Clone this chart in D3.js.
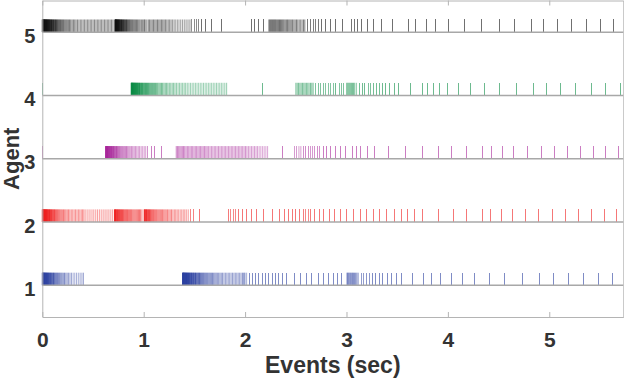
<!DOCTYPE html>
<html>
<head>
<meta charset="utf-8">
<script src="https://cdn.jsdelivr.net/npm/d3@7/dist/d3.min.js"></script>
<style>
body { margin: 0; background: #fff; }
svg text { font-family: "Liberation Sans", Arial, sans-serif; font-weight: bold; fill: #333; }
</style>
</head>
<body>
<svg id="chart" width="624" height="382"></svg>
<script>
// event times (sec) per agent
const agents = [1, 2, 3, 4, 5];
const xTicks = [0, 1, 2, 3, 4, 5];

const events1 = [
    0.000, 0.003, 0.006, 0.009, 0.013, 0.016, 0.020, 0.024, 0.028, 0.033, 0.037, 0.042, 0.047, 0.052, 0.058,
    0.063, 0.069, 0.075, 0.082, 0.088, 0.095, 0.103, 0.110, 0.118, 0.126, 0.135, 0.144, 0.153, 0.163, 0.173,
    0.184, 0.195, 0.207, 0.219, 0.232, 0.245, 0.259, 0.273, 0.288, 0.304, 0.320, 0.337, 0.355, 0.373, 0.391, 0.406,
    1.384, 1.387, 1.390, 1.394, 1.397, 1.401, 1.405, 1.409, 1.413, 1.418, 1.422, 1.427, 1.432, 1.437, 1.442,
    1.448, 1.453, 1.459, 1.465, 1.471, 1.477, 1.484, 1.490, 1.497, 1.504, 1.511, 1.518, 1.526, 1.534, 1.542,
    1.550, 1.558, 1.567, 1.576, 1.585, 1.594, 1.604, 1.614, 1.624, 1.634, 1.645, 1.656, 1.667, 1.678, 1.690,
    1.702, 1.714, 1.726, 1.739, 1.752, 1.765, 1.778, 1.792, 1.806, 1.820, 1.834, 1.848, 1.862, 1.876, 1.890,
    1.904, 1.918, 1.932, 1.946, 1.960, 1.974, 1.987, 1.998,
    2.015, 2.047, 2.077, 2.106, 2.136, 2.169, 2.202, 2.235, 2.267, 2.301, 2.333, 2.366, 2.409, 2.484, 2.550,
    2.604, 2.659, 2.721, 2.777, 2.819, 2.868, 2.912, 2.951,
    3.006, 3.015, 3.025, 3.036, 3.046, 3.057, 3.067, 3.078, 3.090, 3.102, 3.115,
    3.148, 3.171, 3.198, 3.223, 3.253, 3.289, 3.322, 3.355, 3.401, 3.444, 3.493, 3.546, 3.651, 3.762, 3.841,
    3.932, 4.032, 4.142, 4.262, 4.413, 4.561, 4.733, 4.899, 5.044, 5.187, 5.333, 5.481, 5.628
];

const events2 = [
    0.000, 0.003, 0.006, 0.009, 0.012, 0.016, 0.019, 0.023, 0.027, 0.031, 0.035, 0.040, 0.044, 0.049, 0.054,
    0.059, 0.065, 0.071, 0.077, 0.083, 0.090, 0.097, 0.104, 0.112, 0.120, 0.128, 0.137, 0.146, 0.155, 0.165,
    0.175, 0.186, 0.197, 0.209, 0.221, 0.233, 0.246, 0.259, 0.272, 0.286, 0.300, 0.314, 0.328, 0.342, 0.356,
    0.370, 0.384, 0.398, 0.411,
    0.430, 0.450, 0.470, 0.490, 0.508, 0.527, 0.545, 0.563, 0.581, 0.600, 0.619, 0.638, 0.657, 0.676, 0.694,
    0.712, 0.717, 0.722, 0.728, 0.734, 0.740, 0.746, 0.753, 0.760, 0.767, 0.774, 0.782, 0.790, 0.798, 0.806,
    0.815, 0.824, 0.833, 0.842, 0.852, 0.862, 0.872, 0.882, 0.893, 0.904, 0.915, 0.926, 0.937, 0.948, 0.959,
    0.970, 0.983,
    1.005, 1.010, 1.016, 1.022, 1.028, 1.035, 1.042, 1.049, 1.057, 1.065, 1.073, 1.082, 1.091, 1.100, 1.110,
    1.120, 1.130, 1.141, 1.152, 1.163, 1.174, 1.186, 1.198, 1.210, 1.222, 1.235, 1.248, 1.261, 1.274, 1.288,
    1.302, 1.316, 1.330, 1.345, 1.360, 1.375, 1.390, 1.405, 1.420, 1.439, 1.463, 1.488, 1.554,
    1.833, 1.860, 1.883, 1.906, 1.939, 1.971, 2.015, 2.064, 2.113, 2.185, 2.271, 2.343, 2.385, 2.425, 2.464,
    2.501, 2.540, 2.573, 2.599, 2.622, 2.649, 2.688, 2.730, 2.777, 2.829, 2.885, 2.944, 3.003, 3.072, 3.138,
    3.198, 3.263, 3.329, 3.395, 3.469, 3.546, 3.605, 3.667, 3.750, 3.912, 4.051, 4.186, 4.341, 4.423, 4.528,
    4.635, 4.768, 4.898, 5.031, 5.162, 5.293, 5.418, 5.544, 5.665
];

const events3 = [
    0.000,
    0.625, 0.628, 0.632, 0.635, 0.639, 0.643, 0.647, 0.651, 0.656, 0.661, 0.666, 0.671, 0.677, 0.683, 0.689,
    0.695, 0.702, 0.709, 0.716, 0.724, 0.732, 0.740, 0.749, 0.758, 0.767, 0.777, 0.787, 0.797, 0.808, 0.819,
    0.830, 0.842, 0.854, 0.866, 0.879, 0.892, 0.905, 0.918, 0.932, 0.946, 0.960, 0.975, 0.990, 1.005, 1.020,
    1.042, 1.074, 1.108, 1.173,
    1.321, 1.333, 1.345, 1.357, 1.369, 1.381, 1.393, 1.405, 1.418, 1.431, 1.444, 1.457, 1.470, 1.483, 1.496,
    1.509, 1.522, 1.535, 1.548, 1.561, 1.574, 1.587, 1.600, 1.613, 1.626, 1.640, 1.654, 1.668, 1.682, 1.696,
    1.710, 1.724, 1.738, 1.752, 1.766, 1.780, 1.794, 1.808, 1.822, 1.836, 1.850, 1.864, 1.878, 1.892, 1.906,
    1.920, 1.934, 1.948, 1.962, 1.976, 1.990, 2.004, 2.018, 2.033, 2.048, 2.063, 2.078, 2.093, 2.108, 2.123,
    2.139, 2.155, 2.171, 2.188, 2.205, 2.222,
    2.365, 2.491, 2.511, 2.531, 2.550, 2.573, 2.597, 2.622, 2.646, 2.666, 2.688, 2.714, 2.737, 2.770, 2.803,
    2.843, 2.892, 2.941, 2.994, 3.056, 3.099, 3.141, 3.204, 3.279, 3.411, 3.585, 3.750, 3.910, 4.038, 4.186,
    4.341, 4.430, 4.534, 4.652, 4.785, 4.923, 5.054, 5.182, 5.310, 5.435, 5.556, 5.678
];

const events4 = [
    0.000,
    0.877, 0.880, 0.883, 0.887, 0.890, 0.894, 0.898, 0.902, 0.906, 0.911, 0.915, 0.920, 0.925, 0.930, 0.936,
    0.941, 0.947, 0.953, 0.959, 0.966, 0.973, 0.980, 0.987, 0.995, 1.003, 1.011, 1.019, 1.028, 1.037, 1.046,
    1.055, 1.065, 1.075, 1.085, 1.095, 1.106, 1.117, 1.128, 1.139, 1.151, 1.163, 1.175, 1.187, 1.200, 1.213,
    1.226, 1.239, 1.253, 1.267, 1.281, 1.295, 1.309, 1.324, 1.339, 1.354, 1.369, 1.384, 1.399, 1.414, 1.430,
    1.446, 1.462, 1.478, 1.494, 1.510, 1.526, 1.542, 1.558, 1.574, 1.590, 1.606, 1.622, 1.638, 1.654, 1.670,
    1.686, 1.702, 1.718, 1.734, 1.750, 1.766, 1.782, 1.800, 1.818,
    2.172,
    2.501, 2.514, 2.527, 2.540, 2.553, 2.566, 2.579, 2.592, 2.605, 2.618, 2.631, 2.645, 2.658,
    2.671, 2.698, 2.721, 2.747, 2.770, 2.797, 2.819, 2.846, 2.868, 2.895, 2.928, 2.951, 2.974,
    3.003, 3.014, 3.025, 3.036, 3.047, 3.058, 3.070, 3.082,
    3.099, 3.125, 3.154, 3.181, 3.213, 3.237, 3.263, 3.296, 3.322, 3.355, 3.388, 3.427, 3.470, 3.516,
    3.634, 3.750, 3.802, 3.861, 3.920, 3.999, 4.107, 4.226, 4.357, 4.505, 4.677, 4.847, 4.972, 5.113,
    5.260, 5.415, 5.556, 5.699
];

const events5 = [
    0.000, 0.003, 0.005, 0.008, 0.011, 0.014, 0.017, 0.020, 0.023, 0.027, 0.030, 0.034, 0.038, 0.042, 0.046,
    0.050, 0.055, 0.059, 0.064, 0.069, 0.074, 0.079, 0.085, 0.091, 0.097, 0.103, 0.110, 0.117, 0.124, 0.131,
    0.139, 0.147, 0.155, 0.164, 0.173, 0.182, 0.192, 0.202, 0.212, 0.223, 0.234, 0.245, 0.257, 0.269, 0.281,
    0.294, 0.307, 0.320, 0.333, 0.347, 0.361, 0.375, 0.389, 0.403, 0.417, 0.431, 0.445, 0.459, 0.473, 0.487,
    0.501, 0.515, 0.529, 0.543, 0.557, 0.571, 0.585, 0.599, 0.613, 0.627, 0.641, 0.655, 0.669, 0.683, 0.697,
    0.717, 0.720, 0.723, 0.726, 0.730, 0.733, 0.737, 0.741, 0.745, 0.750, 0.754, 0.759, 0.764, 0.769, 0.775,
    0.781, 0.787, 0.793, 0.800, 0.807, 0.814, 0.822, 0.830, 0.838, 0.847, 0.856, 0.865, 0.875, 0.885, 0.895,
    0.906, 0.917, 0.928, 0.940, 0.952, 0.964, 0.977, 0.990, 1.003, 1.013,
    1.030, 1.045, 1.058, 1.071, 1.084, 1.097, 1.110, 1.123, 1.136, 1.149, 1.162, 1.175, 1.188, 1.201, 1.214,
    1.228, 1.242, 1.256, 1.270, 1.285, 1.300, 1.316, 1.332, 1.348, 1.365, 1.382, 1.400, 1.418, 1.437, 1.456,
    1.476, 1.497, 1.518, 1.540, 1.569, 1.609, 1.668, 1.765,
    2.064, 2.096, 2.136, 2.178,
    2.236, 2.246, 2.256, 2.266, 2.276, 2.286, 2.296, 2.306, 2.317, 2.328, 2.339, 2.350, 2.361, 2.372, 2.383,
    2.395, 2.407, 2.419, 2.431, 2.443, 2.455, 2.468, 2.481, 2.494, 2.507, 2.520, 2.534, 2.548, 2.562, 2.576, 2.589,
    2.620, 2.646, 2.671, 2.695, 2.721, 2.754, 2.797, 2.844, 2.893, 2.964, 3.050, 3.077, 3.107, 3.146, 3.210,
    3.270, 3.345, 3.450, 3.608, 3.684, 3.787, 3.881, 4.002, 4.162, 4.331, 4.505, 4.659, 4.827, 4.945, 5.078,
    5.221, 5.366, 5.504, 5.638
];

const eventSets = [events1, events2, events3, events4, events5];
const agentColors = ["#2a3f9f", "#ee1c1c", "#a8279a", "#0b8c45", "#111111"];

const width = 624, height = 382;
const margin = {left: 42.3, right: 0.7, top: 0.5, bottom: 65};

const svg = d3.select("#chart");

const xscale = d3.scaleLinear()
    .domain([0, 5.73])
    .range([margin.left, width - margin.right]);

const yscale = d3.scaleLinear()
    .domain([0.5, 5.5])
    .range([height - margin.bottom, margin.top]);

// dense bursts read dark at their start and pale toward the end
const alpha = d3.scaleLinear()
    .domain([0.003, 0.009, 0.016, 0.028])
    .range([1, 0.72, 0.4, 0.6])
    .clamp(true);

const rows = svg.append("g");

agents.forEach((agent, i) => {
    const times = eventSets[i];
    const ticks = times.map((t, k) => {
        const prev = k > 0 ? t - times[k - 1] : Infinity;
        const next = k < times.length - 1 ? times[k + 1] - t : Infinity;
        return {t: t, gap: Math.min(prev, next)};
    });

    const g = rows.append("g");

    // isolated ticks stay crisp, bursts blend into a band
    g.selectAll("line.ev")
        .data(ticks)
        .join("line")
        .attr("class", "ev")
        .attr("x1", d => xscale(d.t))
        .attr("x2", d => xscale(d.t))
        .attr("y1", yscale(agent))
        .attr("y2", yscale(agent + 0.2))
        .attr("stroke", agentColors[i])
        .attr("stroke-opacity", d => alpha(d.gap))
        .attr("stroke-width", 1)
        .attr("shape-rendering", d => d.gap >= 0.02 ? "crispEdges" : "auto");

    g.append("line")
        .attr("x1", xscale.range()[0])
        .attr("x2", xscale.range()[1])
        .attr("y1", yscale(agent))
        .attr("y2", yscale(agent))
        .attr("stroke", "#a8a8a8")
        .attr("stroke-width", 1.5);
});

// axes box
const boxColor = "#b4b4b4";

const xaxis = d3.axisBottom(xscale)
    .tickValues(xTicks)
    .tickFormat(d3.format("d"))
    .tickSizeInner(-5)
    .tickSizeOuter(0)
    .tickPadding(15);

const xaxisTop = d3.axisTop(xscale)
    .tickValues(xTicks)
    .tickFormat("")
    .tickSizeInner(-5)
    .tickSizeOuter(0);

const yaxis = d3.axisLeft(yscale)
    .tickValues(agents)
    .tickFormat(d3.format("d"))
    .tickSize(0)
    .tickPadding(7);

const yaxisRight = d3.axisRight(yscale)
    .tickValues([])
    .tickSize(0);

const xg = svg.append("g")
    .attr("transform", `translate(0, ${yscale.range()[0]})`)
    .call(xaxis);
svg.append("g")
    .attr("transform", `translate(0, ${yscale.range()[1]})`)
    .call(xaxisTop);
const yg = svg.append("g")
    .attr("transform", `translate(${xscale.range()[0]}, 0)`)
    .call(yaxis);
svg.append("g")
    .attr("transform", `translate(${xscale.range()[1]}, 0)`)
    .call(yaxisRight);

svg.selectAll(".domain, .tick line")
    .attr("stroke", boxColor)
    .attr("stroke-width", 1);

xg.selectAll("text").style("font-size", "21px");
yg.selectAll("text").style("font-size", "20px").attr("dy", "0.5em");

svg.append("text")
    .attr("x", (xscale.range()[0] + xscale.range()[1]) / 2)
    .attr("y", 373)
    .attr("text-anchor", "middle")
    .style("font-size", "23px")
    .text("Events (sec)");

svg.append("text")
    .attr("transform", `translate(19, ${(yscale.range()[0] + yscale.range()[1]) / 2}) rotate(-90)`)
    .attr("text-anchor", "middle")
    .style("font-size", "22px")
    .text("Agent");
</script>
</body>
</html>
